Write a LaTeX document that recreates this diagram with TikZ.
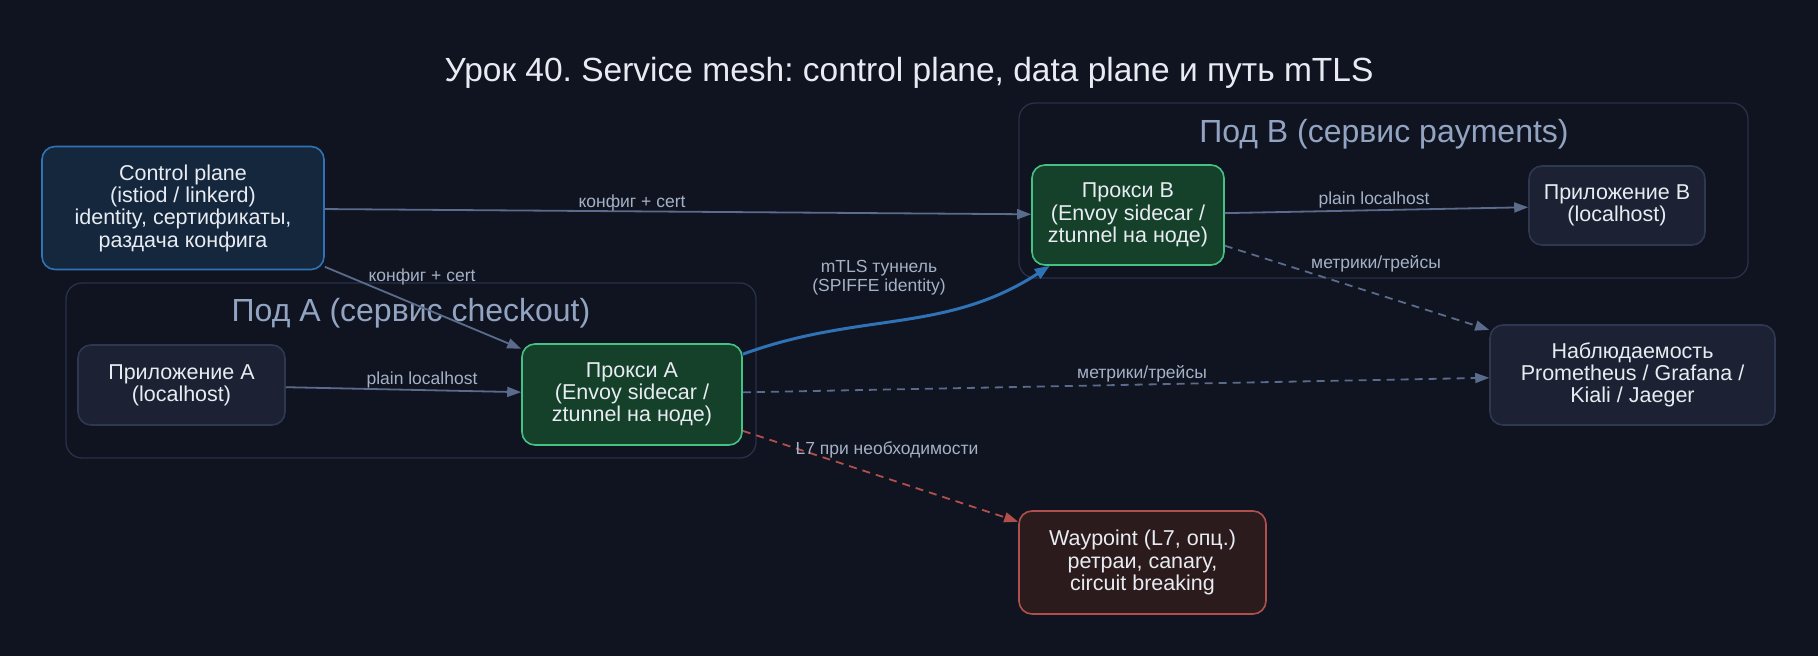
\documentclass[tikz,border=0pt]{standalone}
\usepackage{fontspec}
\setmainfont{Liberation Sans}
\usepackage{tikz}
\usetikzlibrary{calc,positioning,shapes.geometric,arrows.meta}
\usepackage{xcolor}
\frenchspacing

\definecolor{bgc}{HTML}{0F1420}
\definecolor{titlec}{HTML}{E8ECF2}
\definecolor{cpfill}{HTML}{15273D}
\definecolor{cpline}{HTML}{2F72B5}
\definecolor{podline}{HTML}{28314A}
\definecolor{podtext}{HTML}{93A4C2}
\definecolor{appfill}{HTML}{1C2233}
\definecolor{appline}{HTML}{2E3850}
\definecolor{pxfill}{HTML}{15412B}
\definecolor{pxline}{HTML}{45C283}
\definecolor{wpfill}{HTML}{2B1B1C}
\definecolor{wpline}{HTML}{B0504C}
\definecolor{edgec}{HTML}{5B6B8C}
\definecolor{labc}{HTML}{A5B1C6}

\begin{document}
\begin{tikzpicture}[x=1pt, y=1pt,
  box/.style={draw, line width=1.6pt, rounded corners=13pt, align=center, text=titlec,
    font=\fontsize{21.5}{22.3}\selectfont, inner sep=0pt},
  cpbox/.style={box, fill=cpfill, draw=cpline},
  appbox/.style={box, fill=appfill, draw=appline},
  pxbox/.style={box, fill=pxfill, draw=pxline},
  wpbox/.style={box, fill=wpfill, draw=wpline},
  pod/.style={draw=podline, line width=1.3pt, rounded corners=16pt, inner sep=0pt},
  podlab/.style={text=podtext, font=\fontsize{32}{36}\selectfont},
  arrow/.style={-{Triangle[length=14pt, width=10pt]}, line width=1.8pt, draw=edgec},
  dasharrow/.style={arrow, dash pattern=on 8pt off 6pt},
  mtls/.style={-{Triangle[length=15pt, width=11pt]}, line width=3pt, draw=cpline},
  l7/.style={arrow, draw=wpline, dash pattern=on 8pt off 6pt},
  lab/.style={text=labc, font=\fontsize{17.5}{19}\selectfont, align=center, inner sep=0pt}
]
\fill[bgc] (0,0) rectangle (1818,-656);
\useasboundingbox (0,0) rectangle (1818,-656);

\node[text=titlec, font=\fontsize{33.5}{38}\selectfont] (title) at (909,-73)
  {Урок 40. Service mesh: control plane, data plane и путь mTLS};

% pods
\node[pod, minimum width=690pt, minimum height=175pt] (podA) at (411,-370.5) {};
\node[podlab] (podAlab) at (411,-313) {Под A (сервис checkout)};
\node[pod, minimum width=729pt, minimum height=175pt] (podB) at (1383.5,-190.5) {};
\node[podlab] (podBlab) at (1384,-134) {Под B (сервис payments)};

% nodes
\node[cpbox, minimum width=282pt, minimum height=123pt] (cp) at (183,-208)
  {Control plane\\(istiod / linkerd)\\identity, сертификаты,\\раздача конфига};
\node[appbox, minimum width=207pt, minimum height=80pt] (appA) at (181.5,-385)
  {Приложение A\\(localhost)};
\node[pxbox, minimum width=220pt, minimum height=101pt] (pxA) at (632,-394.5)
  {Прокси A\\(Envoy sidecar /\\ztunnel на ноде)};
\node[pxbox, minimum width=192pt, minimum height=100pt] (pxB) at (1128,-215)
  {Прокси B\\(Envoy sidecar /\\ztunnel на ноде)};
\node[appbox, minimum width=176pt, minimum height=79pt] (appB) at (1617,-205.5)
  {Приложение B\\(localhost)};
\node[appbox, minimum width=285pt, minimum height=100pt] (obs) at (1632.5,-375)
  {Наблюдаемость\\Prometheus / Grafana /\\Kiali / Jaeger};
\node[wpbox, minimum width=247pt, minimum height=103pt] (wp) at (1142.5,-562.5)
  {Waypoint (L7, опц.)\\ретраи, canary,\\circuit breaking};

% edges
\draw[arrow] (cp) -- (pxB);
\draw[arrow] (cp) -- (pxA);
\draw[arrow] (appA) -- (pxA);
\draw[mtls] (pxA) to[out=20, in=213] (pxB);
\draw[dasharrow] (pxA) -- (obs);
\draw[dasharrow] (pxB) -- (obs);
\draw[arrow] (pxB) -- (appB);
\draw[l7] (pxA) -- (wp);

% edge labels
\node[lab] (l1) at (632,-203) {конфиг + cert};
\node[lab] (l2) at (422,-277) {конфиг + cert};
\node[lab] (l3) at (422,-380) {plain localhost};
\node[lab] (l4) at (879,-278) {mTLS туннель\\(SPIFFE identity)};
\node[lab] (l5) at (1142,-374) {метрики/трейсы};
\node[lab] (l6) at (1376,-264) {метрики/трейсы};
\node[lab] (l7lab) at (1374,-200) {plain localhost};
\node[lab] (l8) at (887,-450) {L7 при необходимости};
\end{tikzpicture}
\end{document}
